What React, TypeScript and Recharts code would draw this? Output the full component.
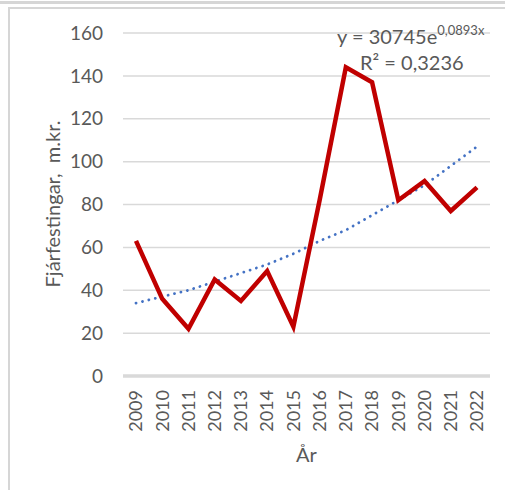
import React from 'react';
import {
  LineChart,
  Line,
  XAxis,
  YAxis,
  CartesianGrid,
  ReferenceLine,
  Label,
} from 'recharts';

const years = ['2009', '2010', '2011', '2012', '2013', '2014', '2015', '2016', '2017', '2018', '2019', '2020', '2021', '2022'];
const investment = [63, 36, 22, 45, 35, 49, 23, 82, 144, 137, 82, 91, 77, 88];
const trend = [34, 37, 40, 44, 48, 52, 57, 63, 68, 75, 82, 89, 98, 107];
const yTicks = [0, 20, 40, 60, 80, 100, 120, 140, 160];

const data = years.map((year, i) => ({ year, value: investment[i], trend: trend[i] }));

const FONT = 'Lato, "Open Sans", sans-serif';
const TEXT = '#595959';
const GRID = '#d9d9d9';

// rotated year labels, read bottom to top
function YearTick(props: any) {
  const { x, y, payload } = props;
  return (
    <text
      x={x}
      y={y}
      transform={`rotate(-90, ${x}, ${y})`}
      textAnchor="end"
      dy="0.35em"
      fill={TEXT}
      fontSize={18}
      fontFamily={FONT}
    >
      {payload.value}
    </text>
  );
}

export default function App() {
  return (
    <div
      style={{
        position: 'absolute',
        top: 0,
        left: 0,
        width: 505,
        height: 490,
        background: '#fff',
        overflow: 'hidden',
        fontFamily: FONT,
      }}
    >
      {/* frame lines */}
      <div style={{ position: 'absolute', left: 0, top: 1, width: 505, height: 3, background: '#d6d6d6' }} />
      <div style={{ position: 'absolute', left: 8, top: 7, width: 497, height: 2, background: '#d6d6d6' }} />
      <div style={{ position: 'absolute', left: 8, top: 7, width: 2, height: 483, background: '#d6d6d6' }} />

      <LineChart
        width={505}
        height={490}
        data={data}
        margin={{ top: 33, right: 15, bottom: 24, left: 0 }}
      >
        <CartesianGrid vertical={false} stroke={GRID} strokeWidth={1.5} />
        <XAxis
          dataKey="year"
          height={90}
          padding={{ left: 13, right: 13 }}
          axisLine={false}
          tickLine={false}
          tickSize={0}
          tickMargin={14}
          interval={0}
          tick={<YearTick />}
        >
          <Label value="År" position="insideBottom" offset={4} fill={TEXT} fontSize={20} fontFamily={FONT} />
        </XAxis>
        <YAxis
          width={123}
          domain={[0, 160]}
          ticks={yTicks}
          axisLine={false}
          tickLine={false}
          tickSize={0}
          tickMargin={20}
          tick={{ fill: TEXT, fontSize: 19, fontFamily: FONT }}
        >
          <Label
            content={() => (
              <text
                x={52}
                y={204}
                transform="rotate(-90, 52, 204)"
                textAnchor="middle"
                dominantBaseline="central"
                fill={TEXT}
                fontSize={20}
                fontFamily={FONT}
              >
                {'Fjárfestingar,\u00a0\u00a0m.kr.'}
              </text>
            )}
          />
        </YAxis>
        <ReferenceLine y={0} stroke={GRID} strokeWidth={3.5} />
        <Line
          dataKey="trend"
          stroke="#4472c4"
          strokeWidth={2.8}
          strokeDasharray="0.1 6.5"
          strokeLinecap="round"
          dot={false}
          activeDot={false}
          isAnimationActive={false}
        />
        <Line
          dataKey="value"
          stroke="#c00000"
          strokeWidth={4.5}
          strokeLinejoin="miter"
          dot={false}
          activeDot={false}
          isAnimationActive={false}
        />
      </LineChart>

      <div style={{ position: 'absolute', left: 337, top: 23, color: TEXT, fontSize: 20, lineHeight: '26px', whiteSpace: 'nowrap' }}>
        y = 30745e<sup style={{ fontSize: 13, verticalAlign: 'top', lineHeight: '14px' }}>0,0893x</sup>
      </div>
      <div style={{ position: 'absolute', left: 360, top: 49, color: TEXT, fontSize: 20, lineHeight: '26px', whiteSpace: 'nowrap' }}>
        R² = 0,3236
      </div>
    </div>
  );
}
